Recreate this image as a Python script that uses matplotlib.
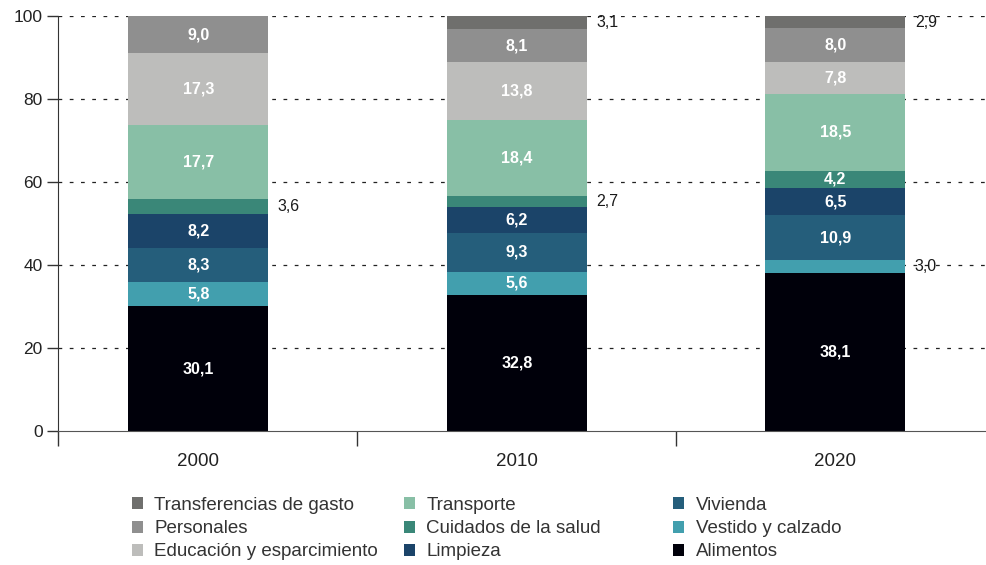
import matplotlib
matplotlib.use("Agg")
import matplotlib.pyplot as plt
import numpy as np
from matplotlib.patches import Patch

plt.rcParams["font.family"] = ["Liberation Sans", "DejaVu Sans"]

years = ["2000", "2010", "2020"]
# bottom to top
categories = [
    "Alimentos",
    "Vestido y calzado",
    "Vivienda",
    "Limpieza",
    "Cuidados de la salud",
    "Transporte",
    "Educación y esparcimiento",
    "Personales",
    "Transferencias de gasto",
]
alimentos = [30.1, 32.8, 38.1]
vestido = [5.8, 5.6, 3.0]
vivienda = [8.3, 9.3, 10.9]
limpieza = [8.2, 6.2, 6.5]
salud = [3.6, 2.7, 4.2]
transporte = [17.7, 18.4, 18.5]
educacion = [17.3, 13.8, 7.8]
personales = [9.0, 8.1, 8.0]
transferencias = [0.0, 3.1, 2.9]

series = [alimentos, vestido, vivienda, limpieza, salud,
          transporte, educacion, personales, transferencias]
colors = ["#00000a", "#429fae", "#255e7b", "#1b4469", "#3a8778",
          "#88bfa6", "#bdbdbb", "#8f8f8f", "#6f6f6d"]
# small segments labelled outside the bar
outside = {(4, 0), (4, 1), (8, 1), (8, 2), (1, 2)}

fig = plt.figure(figsize=(9.87, 5.65), dpi=100)
ax = fig.add_axes([0.0588, 0.2372, 0.9392, 0.7345])

x = np.arange(len(years))
width = 0.44
bottom = np.zeros(len(years))
for si, (values, color) in enumerate(zip(series, colors)):
    values = np.array(values)
    ax.bar(x, values, width, bottom=bottom, color=color, zorder=2)
    for i, v in enumerate(values):
        if v <= 0:
            continue
        mid = bottom[i] + v / 2
        label = f"{v:.1f}".replace(".", ",")
        if (si, i) in outside:
            ax.text(x[i] + width / 2 + 0.03, mid, label, ha="left", va="center",
                    fontsize=11.5, color="#1a1a1a")
        else:
            ax.text(x[i], mid, label, ha="center", va="center", fontsize=11.5,
                    color="white", fontweight="bold")
    bottom += values

ax.set_xlim(-0.44, 2.47)
ax.set_ylim(0, 100)
ax.set_yticks([0, 20, 40, 60, 80, 100])
ax.set_xticks(x, years)
ax.tick_params(axis="x", which="major", length=0, labelsize=13.5, pad=16, colors="#222222")
ax.set_xticks([-0.44, 0.5, 1.5], minor=True)
ax.tick_params(axis="x", which="minor", length=11, width=1, color="#333333")
ax.tick_params(axis="y", length=8, width=1, labelsize=12.5, colors="#222222", pad=3)
ax.tick_params(axis="y", color="#333333")
for y in [20, 40, 60, 80, 100]:
    ax.axhline(y, color="#222222", linestyle=(0, (3, 6)), linewidth=0.9, zorder=1)
for side in ["top", "right"]:
    ax.spines[side].set_visible(False)
ax.spines["left"].set_color("#333333")
ax.spines["bottom"].set_color("#555555")

# legend: three fixed columns, top to bottom like the reference
legend_order = [8, 7, 6, 5, 4, 3, 2, 1, 0]
col_x = [0.1337, 0.4093, 0.6819]
for c in range(3):
    idx = legend_order[c * 3:(c + 1) * 3]
    handles = [Patch(facecolor=colors[i], edgecolor="none") for i in idx]
    labels = [categories[i] for i in idx]
    fig.legend(handles, labels, ncol=1, loc="upper left",
               bbox_to_anchor=(col_x[c], 0.1204), borderaxespad=0, borderpad=0,
               frameon=False, fontsize=13.5, handlelength=0.6, handleheight=0.6,
               handletextpad=0.6, labelspacing=0.33, labelcolor="#333333")

fig.savefig("out.png", dpi=100)
